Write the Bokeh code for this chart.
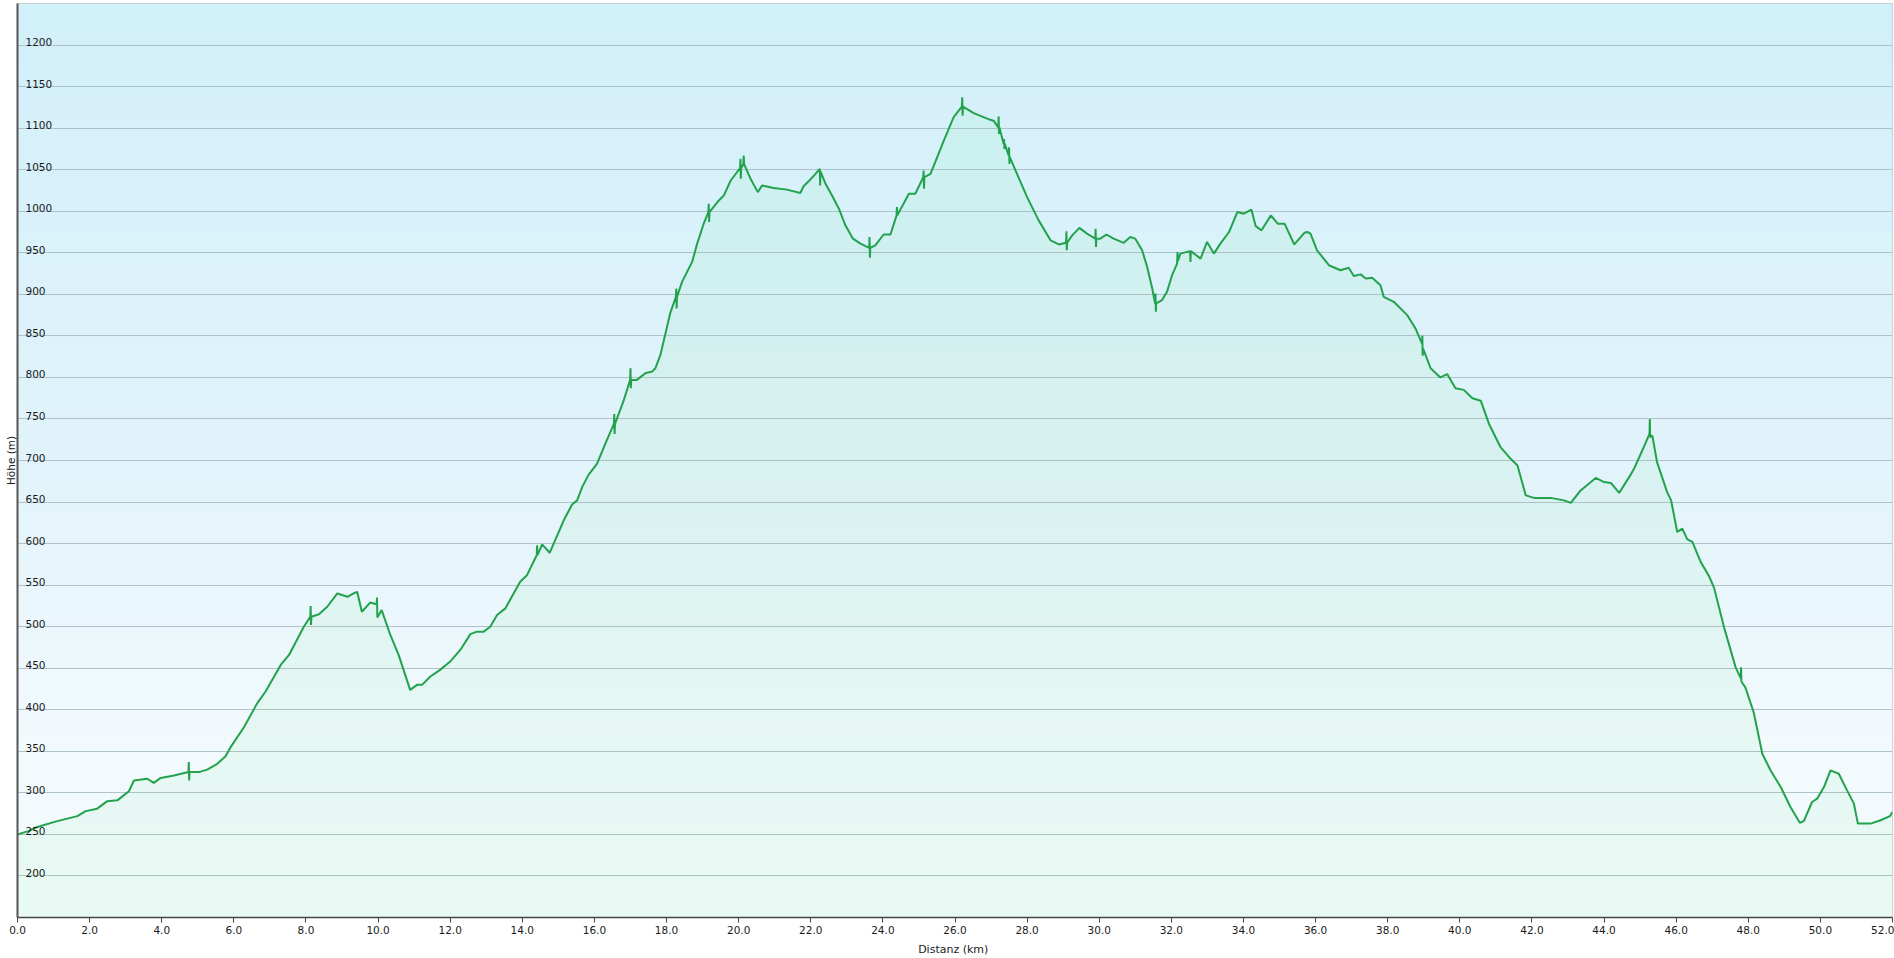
import numpy as np
from bokeh.plotting import figure
from bokeh.models import Range1d, FixedTicker, NumeralTickFormatter
from bokeh.core.properties import value
from bokeh.embed import file_html
from bokeh.resources import INLINE

# ---------------- data ----------------
dist = [
    0.00, 0.30, 0.55, 1.10, 1.66, 1.89, 2.21, 2.49, 2.77, 3.09, 3.23, 3.60, 3.78, 3.97, 4.34,
    4.74, 4.75, 4.76, 4.77, 5.03, 5.26, 5.54, 5.77, 5.91, 6.28, 6.65, 6.88, 7.30, 7.53, 7.94,
    8.12, 8.13, 8.14, 8.15, 8.36, 8.59, 8.87, 9.15, 9.32, 9.42, 9.55, 9.78, 9.96, 9.97, 9.98,
    10.10, 10.34, 10.57, 10.89, 11.08, 11.22, 11.45, 11.72, 12.00, 12.28, 12.56, 12.74, 12.93,
    13.11, 13.30, 13.53, 13.67, 13.94, 14.13, 14.40, 14.41, 14.42, 14.55, 14.76, 14.87, 15.15,
    15.38, 15.52, 15.66, 15.84, 16.07, 16.30, 16.54, 16.55, 16.56, 16.57, 16.81, 16.99, 17.00,
    17.01, 17.02, 17.18, 17.41, 17.60, 17.69, 17.83, 18.10, 18.26, 18.27, 18.28, 18.29, 18.43,
    18.71, 18.85, 19.03, 19.16, 19.17, 19.18, 19.19, 19.45, 19.59, 19.78, 20.04, 20.05, 20.06,
    20.07, 20.13, 20.14, 20.15, 20.33, 20.53, 20.65, 20.97, 21.34, 21.71, 21.80, 21.94, 22.13,
    22.25, 22.26, 22.27, 22.41, 22.59, 22.78, 22.96, 23.17, 23.38, 23.62, 23.63, 23.64, 23.65,
    23.79, 24.02, 24.21, 24.38, 24.39, 24.40, 24.72, 24.90, 25.12, 25.13, 25.14, 25.15, 25.32,
    25.69, 25.96, 26.19, 26.20, 26.21, 26.22, 26.52, 26.98, 27.07, 27.20, 27.21, 27.22, 27.23,
    27.35, 27.36, 27.37, 27.38, 27.49, 27.50, 27.51, 27.52, 27.72, 28.00, 28.32, 28.65, 28.88,
    29.08, 29.09, 29.10, 29.11, 29.25, 29.45, 29.66, 29.89, 29.90, 29.91, 29.92, 30.03, 30.20,
    30.40, 30.68, 30.86, 31.00, 31.19, 31.33, 31.47, 31.55, 31.56, 31.57, 31.58, 31.74, 31.88,
    32.02, 32.16, 32.17, 32.18, 32.25, 32.52, 32.53, 32.54, 32.81, 32.99, 33.18, 33.36, 33.60,
    33.83, 34.01, 34.22, 34.34, 34.50, 34.76, 34.95, 35.14, 35.41, 35.69, 35.77, 35.86, 36.04,
    36.37, 36.69, 36.92, 37.06, 37.25, 37.39, 37.57, 37.80, 37.89, 38.17, 38.54, 38.77, 38.95,
    38.96, 38.97, 38.98, 39.19, 39.46, 39.65, 39.88, 40.11, 40.35, 40.58, 40.81, 41.13, 41.41,
    41.60, 41.83, 42.06, 42.52, 42.89, 43.08, 43.35, 43.77, 44.00, 44.19, 44.42, 44.74, 44.83,
    45.06, 45.26, 45.27, 45.28, 45.34, 45.47, 45.75, 45.86, 46.03, 46.17, 46.31, 46.45, 46.68,
    46.91, 47.05, 47.33, 47.65, 47.79, 47.80, 47.81, 47.92, 48.15, 48.39, 48.62, 48.90, 49.17,
    49.43, 49.54, 49.77, 49.91, 50.10, 50.28, 50.51, 50.74, 50.93, 51.04, 51.39, 51.67, 51.93,
    52.00,
]
elev = [
    250, 254, 259, 266, 272, 278, 281, 290, 291, 302, 315, 317, 312, 318, 321,
    325, 337, 315, 325, 325, 328, 335, 344, 355, 379, 408, 422, 454, 466, 500,
    512, 525, 502, 512, 515, 524, 540, 536, 540, 542, 518, 529, 527, 535, 511,
    520, 490, 466, 424, 430, 430, 440, 448, 458, 472, 491, 494, 494,
    500, 514, 522, 533, 554, 562, 586, 598, 586, 599, 589, 600, 628,
    647, 652, 668, 683, 696, 720, 744, 756, 732, 744, 772, 797, 811,
    787, 797, 797, 805, 807, 811, 827, 877, 897, 907, 883, 897, 915,
    939, 961, 985, 999, 1009, 987, 999, 1013, 1019, 1037, 1052, 1063, 1039,
    1052, 1057, 1067, 1057, 1039, 1023, 1031, 1028, 1026, 1022, 1030, 1036, 1045,
    1051, 1031, 1048, 1033, 1019, 1003, 983, 967, 961, 956, 969, 944, 956,
    959, 972, 972, 995, 1005, 995, 1021, 1021, 1041, 1049, 1027, 1041, 1045,
    1085, 1113, 1126, 1137, 1115, 1126, 1118, 1110, 1109, 1101, 1114, 1093, 1101,
    1081, 1087, 1075, 1081, 1067, 1077, 1057, 1065, 1045, 1017, 989, 965, 960,
    962, 976, 953, 962, 971, 980, 973, 967, 979, 957, 967, 967, 972,
    967, 962, 969, 967, 953, 933, 907, 889, 901, 879, 889, 893, 903,
    923, 937, 951, 940, 949, 952, 939, 952, 943, 963, 949, 961, 975,
    999, 997, 1002, 982, 977, 995, 985, 985, 960, 974, 975, 973, 953,
    935, 929, 932, 922, 924, 919, 920, 911, 897, 891, 875, 859, 841,
    850, 826, 835, 811, 800, 804, 787, 785, 775, 772, 744, 716, 702,
    694, 658, 655, 655, 652, 649, 664, 679, 674, 673, 661, 683, 690,
    712, 732, 750, 728, 730, 698, 662, 652, 614, 618, 605, 602, 578,
    561, 547, 499, 451, 438, 451, 434, 427, 397, 347, 327, 307, 283,
    264, 266, 289, 293, 307, 327, 323, 303, 287, 263, 263, 267, 272,
    277,
]

y_ticks = list(range(200, 1201, 50))
y_tick_labels = [str(t) for t in y_ticks]
x_ticks = list(range(0, 53, 2))

X_MIN, X_MAX = 0, 52
Y_MIN, Y_MAX = 150, 1250

FONT = "DejaVu Sans"

p = figure(
    width=1894, height=958,
    x_range=Range1d(X_MIN, X_MAX), y_range=Range1d(Y_MIN, Y_MAX),
    output_backend="svg", toolbar_location=None,
    min_border_top=3, min_border_right=2, min_border_left=17, min_border_bottom=0,
)
p.border_fill_color = "white"
p.background_fill_color = "white"
p.outline_line_color = "#c4c4c4"
p.outline_line_width = 1

# ---- vertical gradient background (blue at top -> near white at bottom)
N = 600
t = np.linspace(1.0, 0.0, N)  # row 0 = bottom of image
stops = [0.0, 0.5, 0.8, 1.0]
R = np.interp(t, stops, [210, 226, 242, 246])
G = np.interp(t, stops, [240, 244, 250, 252])
B = np.interp(t, stops, [250, 251, 254, 255])
img = np.empty((N, 2), dtype=np.uint32)
view = img.view(dtype=np.uint8).reshape((N, 2, 4))
view[:, :, 0] = R[:, None].astype(np.uint8)
view[:, :, 1] = G[:, None].astype(np.uint8)
view[:, :, 2] = B[:, None].astype(np.uint8)
view[:, :, 3] = 255
p.image_rgba(image=[img], x=X_MIN, y=Y_MIN, dw=X_MAX - X_MIN, dh=Y_MAX - Y_MIN, level="image")

# ---- area + line
p.varea(x=dist, y1=[Y_MIN] * len(dist), y2=elev, fill_color="#50e678", fill_alpha=0.07)
p.line(dist, elev, line_color="#22a24c", line_width=2)

# ---- y tick labels drawn inside the plot, above their grid lines
p.text(x=[X_MIN] * len(y_ticks), y=y_ticks, text=y_tick_labels,
       x_offset=8, y_offset=-3, text_font=value(FONT), text_font_size="10.5px",
       text_color="#1a1a1a", text_align="left", text_baseline="alphabetic")

# ---- axes
xa = p.xaxis[0]
xa.ticker = FixedTicker(ticks=x_ticks)
xa.formatter = NumeralTickFormatter(format="0.0")
xa.minor_tick_line_color = None
xa.major_tick_in = 0
xa.major_tick_out = 5
xa.major_tick_line_color = "#444444"
xa.axis_line_color = "#444444"
xa.axis_line_width = 1.5
xa.major_label_text_font = FONT
xa.major_label_text_font_size = "10.5px"
xa.major_label_text_color = "#1a1a1a"
xa.major_label_standoff = 3
xa.axis_label = "Distanz  (km)"
xa.axis_label_text_font = FONT
xa.axis_label_text_font_size = "11px"
xa.axis_label_text_font_style = "normal"
xa.axis_label_text_color = "#1a1a1a"
xa.axis_label_standoff = 6

ya = p.yaxis[0]
ya.ticker = FixedTicker(ticks=[])
ya.major_label_standoff = 0
ya.major_tick_line_color = None
ya.minor_tick_line_color = None
ya.major_tick_out = 0
ya.major_tick_in = 0
ya.axis_line_color = "#555555"
ya.axis_line_width = 2
ya.axis_label = "Höhe (m)"
ya.axis_label_text_font = FONT
ya.axis_label_text_font_size = "10.5px"
ya.axis_label_text_font_style = "normal"
ya.axis_label_text_color = "#1a1a1a"
ya.axis_label_standoff = 1

p.xgrid.grid_line_color = None
p.ygrid.ticker = FixedTicker(ticks=y_ticks)
p.ygrid.grid_line_color = "#b0c2c9"
p.ygrid.grid_line_width = 1

open("out.html", "w").write(file_html(p, INLINE))
